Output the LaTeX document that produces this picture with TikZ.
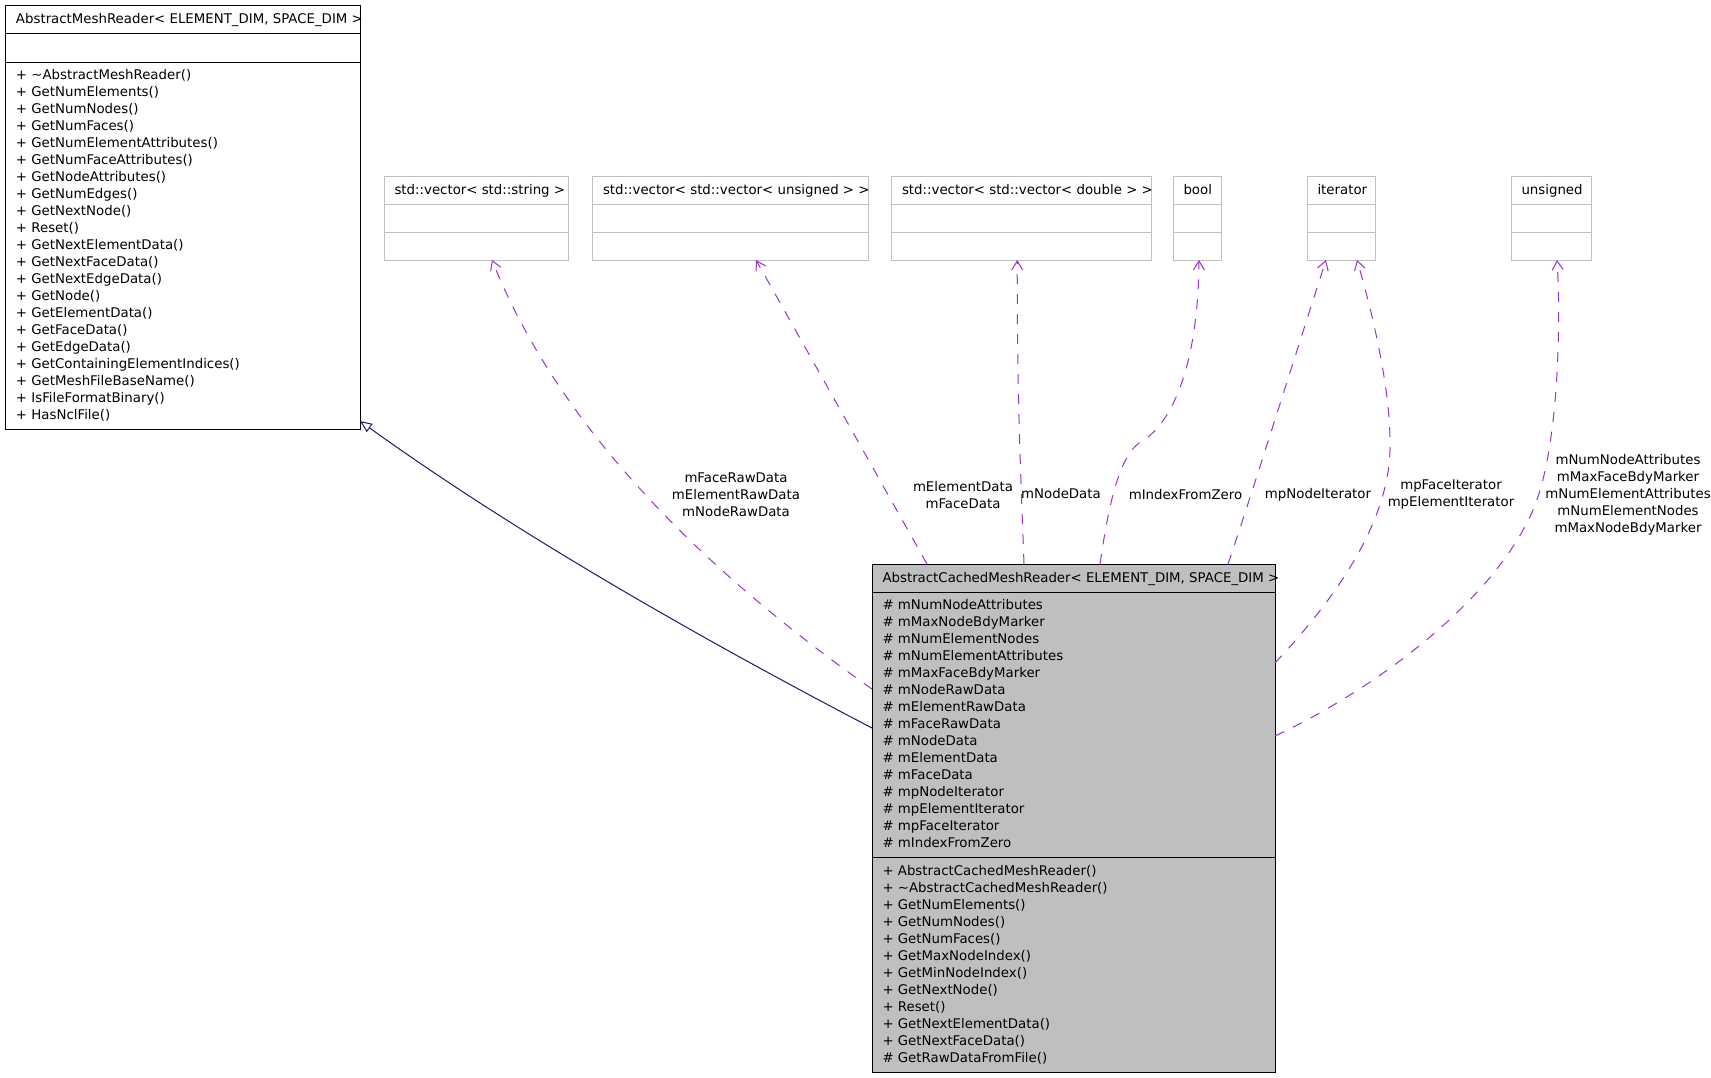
\documentclass[tikz,border=0pt]{standalone}
\usepackage{fontspec}
\setmainfont{DejaVu Sans}
\usetikzlibrary{arrows.meta,calc}
\definecolor{edgepurple}{HTML}{9A32CD}
\definecolor{inhblue}{HTML}{191970}
\definecolor{boxgrey}{HTML}{BFBFBF}
\begin{document}
\begin{tikzpicture}[x=1pt,y=-1pt,
  txt/.style={font=\fontsize{13.33}{17}\selectfont, inner sep=0pt, outer sep=0pt},
  classbox/.style={draw=black, line width=1pt, inner sep=0pt, outer sep=0pt, anchor=north west},
  typebox/.style={draw=boxgrey, line width=1pt, inner sep=0pt, outer sep=0pt, anchor=north west, minimum height=84pt},
  divb/.style={draw=black, line width=1pt},
  divg/.style={draw=boxgrey, line width=1pt},
  depend/.style={draw=edgepurple, line width=1pt, dash pattern=on 10pt off 10pt, -{Straight Barb[length=9pt,width=11pt]}},
  inherit/.style={draw=inhblue, line width=1pt, -{Triangle[open,length=12pt,width=10pt,fill=white]}},
  lbl/.style={txt, align=center, anchor=center}
]
\useasboundingbox (0,0) rectangle (1711,1077);

% ---------- class boxes ----------
\node[classbox, minimum width=354.5pt, minimum height=423.5pt] (amr) at (5.5,5.5) {};
\node[classbox, fill=boxgrey, minimum width=403pt, minimum height=508pt] (cmr) at (872,564) {};
\node[typebox, minimum width=184pt] (vstr) at (384,176) {};
\node[typebox, minimum width=276pt] (vuns) at (592.5,176) {};
\node[typebox, minimum width=259.5pt] (vdbl) at (891.5,176) {};
\node[typebox, minimum width=48pt] (tbool) at (1173,176) {};
\node[typebox, minimum width=68pt] (titer) at (1307,176) {};
\node[typebox, minimum width=80pt] (tuns) at (1511,176) {};

% dividers
\draw[divb] ($(amr.north west)+(0,28)$) -- ($(amr.north east)+(0,28)$);
\draw[divb] ($(amr.north west)+(0,56.5)$) -- ($(amr.north east)+(0,56.5)$);
\draw[divb] ($(cmr.north west)+(0,28)$) -- ($(cmr.north east)+(0,28)$);
\draw[divb] ($(cmr.north west)+(0,293)$) -- ($(cmr.north east)+(0,293)$);
\foreach \n in {vstr,vuns,vdbl,tbool,titer,tuns}{
  \draw[divg] ($(\n.north west)+(0,28)$) -- ($(\n.north east)+(0,28)$);
  \draw[divg] ($(\n.north west)+(0,56)$) -- ($(\n.north east)+(0,56)$);
}

% headers
\node[txt,anchor=base west] (amrt) at ($(amr.north west)+(10.5,18)$) {AbstractMeshReader< ELEMENT\_DIM, SPACE\_DIM >};
\node[txt,anchor=base west] (cmrt) at ($(cmr.north west)+(10.5,18.5)$) {AbstractCachedMeshReader< ELEMENT\_DIM, SPACE\_DIM >};
\node[txt,anchor=base west] (vstrt) at ($(vstr.north west)+(10.5,18.5)$) {std::vector< std::string >};
\node[txt,anchor=base west] (vunst) at ($(vuns.north west)+(10.5,18.5)$) {std::vector< std::vector< unsigned > >};
\node[txt,anchor=base west] (vdblt) at ($(vdbl.north west)+(10.5,18.5)$) {std::vector< std::vector< double > >};
\node[txt,anchor=base west] (tboolt) at ($(tbool.north west)+(10.5,18.5)$) {bool};
\node[txt,anchor=base west] (titert) at ($(titer.north west)+(10.5,18.5)$) {iterator};
\node[txt,anchor=base west] (tunst) at ($(tuns.north west)+(10.5,18.5)$) {unsigned};

% AbstractMeshReader methods
\foreach \t [count=\i] in {+ \textasciitilde AbstractMeshReader(), + GetNumElements(), + GetNumNodes(), + GetNumFaces(), + GetNumElementAttributes(), + GetNumFaceAttributes(), + GetNodeAttributes(), + GetNumEdges(), + GetNextNode(), + Reset(), + GetNextElementData(), + GetNextFaceData(), + GetNextEdgeData(), + GetNode(), + GetElementData(), + GetFaceData(), + GetEdgeData(), + GetContainingElementIndices(), + GetMeshFileBaseName(), + IsFileFormatBinary(), + HasNclFile()}
  \node[txt,anchor=base west] (amrm\i) at ($(amr.north west)+(10.5,{73.5+(\i-1)*17})$) {\t};

% AbstractCachedMeshReader attributes
\foreach \t [count=\i] in {mNumNodeAttributes, mMaxNodeBdyMarker, mNumElementNodes, mNumElementAttributes, mMaxFaceBdyMarker, mNodeRawData, mElementRawData, mFaceRawData, mNodeData, mElementData, mFaceData, mpNodeIterator, mpElementIterator, mpFaceIterator, mIndexFromZero}
  \node[txt,anchor=base west] (cmra\i) at ($(cmr.north west)+(10.5,{45.3+(\i-1)*17})$) {\# \t};

% AbstractCachedMeshReader methods
\foreach \t [count=\i] in {+ AbstractCachedMeshReader(), + \textasciitilde AbstractCachedMeshReader(), + GetNumElements(), + GetNumNodes(), + GetNumFaces(), + GetMaxNodeIndex(), + GetMinNodeIndex(), + GetNextNode(), + Reset(), + GetNextElementData(), + GetNextFaceData(), \# GetRawDataFromFile()}
  \node[txt,anchor=base west] (cmrm\i) at ($(cmr.north west)+(10.5,{311.7+(\i-1)*17})$) {\t};

% ---------- connectors ----------
\draw[inherit] ($(cmr.north west)+(0,164)$) .. controls (667,621) and (496,519) .. ($(amr.south east)+(0,-8)$);

\draw[depend] ($(cmr.north west)+(0,125)$) .. controls (680,554) and (553,412) .. ($(vstr.south)+(16,0)$);
\draw[depend] ($(cmr.north west)+(55,0)$) -- ($(vuns.south)+(25.5,0)$);
\draw[depend] ($(cmr.north west)+(152,0)$) .. controls (1021,480) and (1017,400) .. ($(vdbl.south)+(-4,0)$);
\draw[depend] ($(cmr.north west)+(228,0)$) .. controls (1108,510) and (1118,455) .. (1142,441) .. controls (1165,428) and (1198,380) .. ($(tbool.south)+(2,0)$);
\draw[depend] ($(cmr.north west)+(356,0)$) .. controls (1250,500) and (1300,340) .. ($(titer.south)+(-15,0)$);
\draw[depend] ($(cmr.north east)+(0,99)$) .. controls (1335,599) and (1392,520) .. (1390,442) .. controls (1390,382) and (1369,301) .. ($(titer.south)+(16,0)$);
\draw[depend] ($(cmr.north east)+(0,172)$) .. controls (1375,689) and (1493,602) .. (1533,510) .. controls (1559,450) and (1561,320) .. ($(tuns.south)+(6,0)$);

% ---------- labels ----------
\node[lbl] (lA) at (736,495) {mFaceRawData\\mElementRawData\\mNodeRawData};
\node[lbl] (lB) at (963,495) {mElementData\\mFaceData};
\node[lbl] (lC) at (1061,494) {mNodeData};
\node[lbl] (lD) at (1185.5,495) {mIndexFromZero};
\node[lbl] (lE) at (1318,495) {mpNodeIterator};
\node[lbl] (lF) at (1451,495) {mpFaceIterator\\mpElementIterator};
\node[lbl] (lG) at (1628,495) {mNumNodeAttributes\\mMaxFaceBdyMarker\\mNumElementAttributes\\mNumElementNodes\\mMaxNodeBdyMarker};
\end{tikzpicture}
\end{document}
